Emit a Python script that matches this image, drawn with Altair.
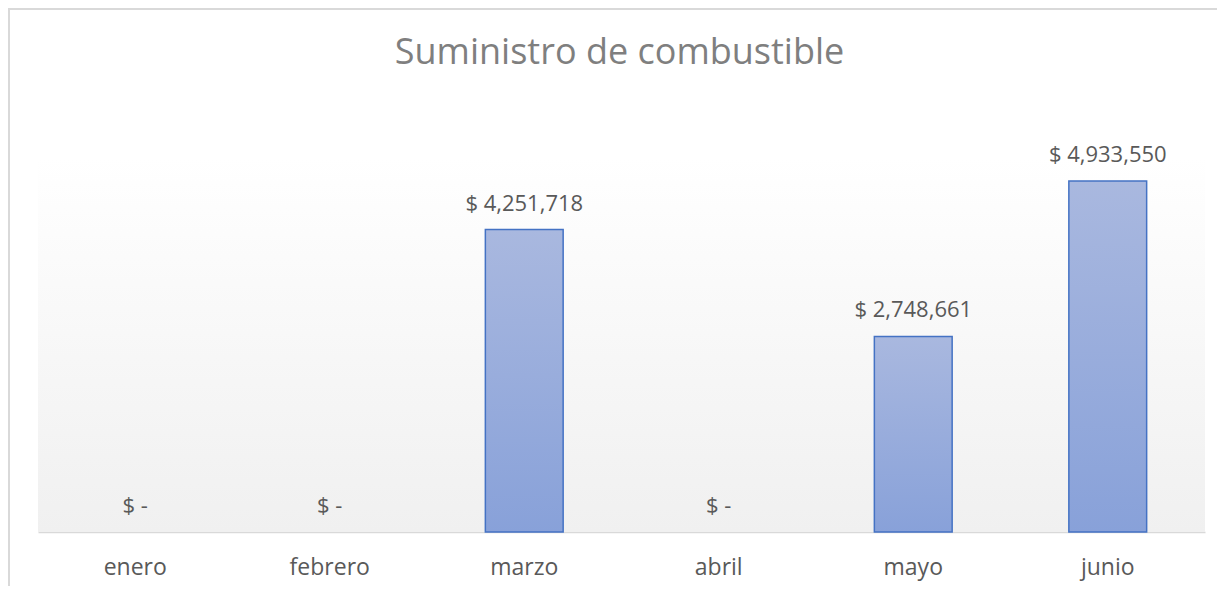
import altair as alt
import pandas as pd

months = ["enero", "febrero", "marzo", "abril", "mayo", "junio"]
values = [0, 0, 4251718, 0, 2748661, 4933550]
title_text = "Suministro de combustible"

df = pd.DataFrame({"mes": months, "valor": values})

W, H = 1167, 374
FONT = "Open Sans"

x_enc = alt.X("mes:N", sort=months, title=None,
              scale=alt.Scale(paddingInner=0.6, paddingOuter=0.3),
              axis=alt.Axis(labelAngle=0, ticks=False, labelPadding=24,
                            labelFontSize=23, labelColor="#595959", labelFont=FONT,
                            domainColor="#d9d9d9", domainWidth=1.5))
y_enc = alt.Y("valor:Q", title=None, scale=alt.Scale(domain=[0, 5256830], nice=False),
              axis=None)

base = alt.Chart(df)

bg = base.mark_rect(
    color=alt.LinearGradient(gradient="linear", x1=0, x2=0, y1=0, y2=1,
                             stops=[alt.GradientStop(color="#ffffff", offset=0),
                                    alt.GradientStop(color="#f0f0f0", offset=1)])
).encode(x=alt.value(0), x2=alt.value(W), y=alt.value(0), y2=alt.value(H))

frame_left = base.mark_rule(color="#d9d9d9", strokeWidth=1.5).encode(
    x=alt.value(-29), y=alt.value(-150), y2=alt.value(H + 60))
frame_top = base.mark_rule(color="#d9d9d9", strokeWidth=1.5).encode(
    x=alt.value(-29), x2=alt.value(W + 20), y=alt.value(-149))

title = alt.Chart(pd.DataFrame({"t": [title_text]})).mark_text(
    fontSize=36, font=FONT, color="#7f7f7f", baseline="middle", align="center"
).encode(x=alt.value(W / 2 - 2), y=alt.value(-105), text="t:N")

bars = base.mark_bar(
    color=alt.LinearGradient(gradient="linear", x1=0, x2=0, y1=0, y2=1,
                             stops=[alt.GradientStop(color="#a9b8df", offset=0),
                                    alt.GradientStop(color="#88a1d9", offset=1)]),
    stroke="#4472c4", strokeWidth=1.5
).transform_filter("datum.valor > 0").encode(x=x_enc, y=y_enc)

labels = base.mark_text(
    fontSize=22, font=FONT, color="#595959", baseline="middle", dy=-26
).transform_calculate(
    lbl="datum.valor > 0 ? '$ ' + format(datum.valor, ',') : '$ -'"
).encode(x=x_enc, y=y_enc, text="lbl:N")

chart = alt.layer(bg, frame_left, frame_top, title, bars, labels).properties(
    width=W, height=H,
    autosize=alt.AutoSizeParams(type="none"),
    padding={"left": 30, "top": 150, "right": 12, "bottom": 54},
).configure_view(stroke=None)

chart.save("out.html", embed_options={"renderer": "svg", "actions": False})
